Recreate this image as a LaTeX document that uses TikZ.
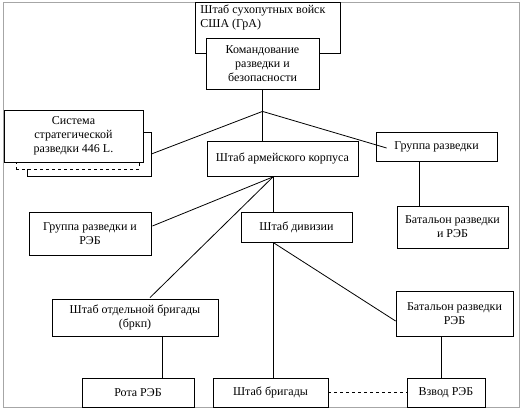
\documentclass[tikz,border=0pt]{standalone}
\usepackage{fontspec}
\setmainfont{Liberation Serif}
\usetikzlibrary{calc}
\tikzset{
    unitbox/.style={draw, fill=white, align=center, inner sep=2pt,
        font=\fontsize{12}{14}\selectfont},
    link/.style={line width=0.8pt},
}
\begin{document}
\begin{tikzpicture}[x=1pt,y=-1pt,line width=0.8pt]
    % Рамка
    \useasboundingbox (0,0) rectangle (524,410);
    \draw[gray!70, line width=1pt] (3,2) rectangle (519,407);

    % Верхний уровень
    \node[unitbox, anchor=north west, inner sep=0pt, inner xsep=5pt, minimum width=145pt, minimum height=51pt] (hq) at (195,2)
        {\begin{minipage}[t][49pt][t]{135pt}\raggedright\fontsize{12}{14}\selectfont
         \vspace{2pt}Штаб сухопутных войск\\США (ГрА)\end{minipage}};
    \node[unitbox, minimum width=113pt, minimum height=51pt] (cmd) at (262.5,63.5)
        {Командование\\разведки и\\безопасности};

    % Система стратегической разведки (стопка)
    \node[draw, fill=white, minimum width=124pt, minimum height=44pt] (sysback) at (89,154) {};
    \node[draw, dashed, fill=white, minimum width=123pt, minimum height=52pt] (sysmid) at (77.5,143) {};
    \node[unitbox, minimum width=139pt, minimum height=52pt] (sys) at (73.5,136)
        {Система\\стратегической\\разведки 446 L.};

    % Средний уровень
    \node[unitbox, minimum width=151pt, minimum height=35pt] (corps) at (282.5,158.5) {Штаб армейского корпуса};
    \node[unitbox, minimum width=121pt, minimum height=29pt] (grp) at (436.5,146.5) {Группа разведки};
    \node[unitbox, minimum width=111pt, minimum height=42pt] (bnrec) at (452.5,227) {Батальон разведки\\и РЭБ};
    \node[unitbox, minimum width=122pt, minimum height=43pt] (grpew) at (90,233.5) {Группа разведки и\\РЭБ};
    \node[unitbox, minimum width=111pt, minimum height=30pt] (div) at (296.5,227) {Штаб дивизии};

    % Нижний уровень
    \node[unitbox, minimum width=166pt, minimum height=37pt] (sepbde) at (135,317.5) {Штаб отдельной бригады\\(бркп)};
    \node[unitbox, minimum width=117pt, minimum height=45pt] (bnew) at (454.5,313.5) {Батальон разведки\\РЭБ};
    \node[unitbox, minimum width=112pt, minimum height=29pt] (coy) at (138,392.5) {Рота РЭБ};
    \node[unitbox, minimum width=115pt, minimum height=29pt] (bde) at (270.5,392.5) {Штаб бригады};
    \node[unitbox, minimum width=78pt, minimum height=29pt] (plt) at (446,392.5) {Взвод РЭБ};

    % Точки ветвления
    \coordinate (jn) at ($(cmd.south)+(0,22)$);
    \coordinate (cv) at ($(corps.south)+(-9.5,0.5)$);
    \coordinate (grpdn) at ($(grp.south)+(-17.5,0)$);
    \coordinate (sepdn) at ($(sepbde.south)+(27,0)$);
    \coordinate (bnewdn) at ($(bnew.south)+(-13.5,0)$);

    % Связи
    \draw[link] (cmd.south) -- (jn);
    \draw[link] (jn) -- (sysback.east);
    \draw[link] (jn) -- (jn |- corps.north);
    \draw[link] (jn) -- ($(grp.west)+(11,1.5)$);
    \draw[link] (grpdn) -- (grpdn |- bnrec.north);
    \draw[link] (cv) -- ($(grpew.east)+(1,-7.5)$);
    \draw[link] (cv) -- (cv |- div.north);
    \draw[link] (cv) -- ($(sepbde.north)+(15,-1)$);
    \draw[link] (cv |- div.south) -- (cv |- bde.north);
    \draw[link] (cv |- div.south) -- ($(bnew.west)+(0,7.5)$);
    \draw[link] (sepdn) -- (sepdn |- coy.north);
    \draw[link] (bnewdn) -- (bnewdn |- plt.north);
    \draw[link, dashed] (bde.east) -- (plt.west);
\end{tikzpicture}
\end{document}
